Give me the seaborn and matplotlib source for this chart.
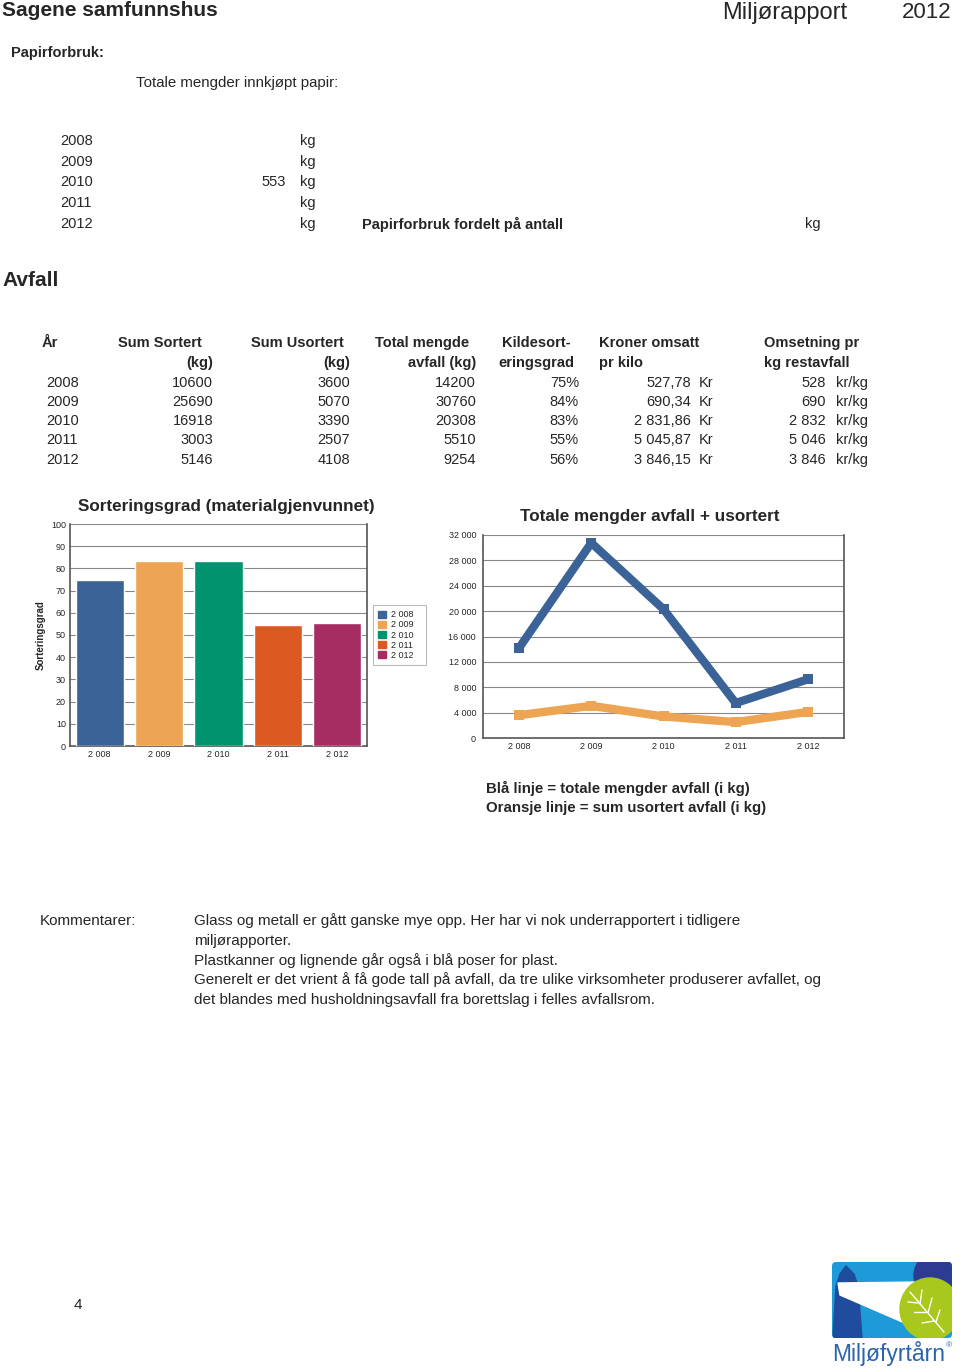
import numpy as np
import pandas as pd
import matplotlib
matplotlib.use("Agg")
import matplotlib.pyplot as plt
import matplotlib.patches as mpatches
import seaborn as sns

# data
years = [2008, 2009, 2010, 2011, 2012]
year_labels = ["2 008", "2 009", "2 010", "2 011", "2 012"]
sortert = [10600, 25690, 16918, 3003, 5146]
usortert = [3600, 5070, 3390, 2507, 4108]
total = [14200, 30760, 20308, 5510, 9254]
kildesort = ["75%", "84%", "83%", "55%", "56%"]
kroner_kilo = ["527,78", "690,34", "2 831,86", "5 045,87", "3 846,15"]
omsetning = ["528", "690", "2 832", "5 046", "3 846"]
sort_grad = [74.6, 83.5, 83.3, 54.5, 55.6]
bar_colors = ["#3b6398", "#eda453", "#00936e", "#dc5a21", "#a52d62"]
line_blue = "#3b6398"
line_orange = "#eda453"

sns.set_style("white")
plt.rcParams["font.family"] = ["Liberation Sans", "DejaVu Sans"]

W, H = 960, 1371
fig = plt.figure(figsize=(9.6, 13.71), dpi=100)


def txt(x, y, s, size=10.5, ha="left", weight="normal", **kw):
    fig.text(x / W, 1 - y / H, s, fontsize=size, ha=ha, va="center",
             fontweight=weight, **kw)


def ax_at(x0, y0, x1, y1):
    return fig.add_axes([x0 / W, 1 - y1 / H, (x1 - x0) / W, (y1 - y0) / H])


# page header
txt(2, 11, "Sagene samfunnshus", size=15, weight="bold")
txt(722, 13, "Miljørapport", size=17)
txt(902, 13, "2012", size=16)

# paper section
txt(11, 53, "Papirforbruk:", size=10.5, weight="bold")
txt(136, 83, "Totale mengder innkjøpt papir:", size=10.8)
for i, yr in enumerate(years):
    yy = [141, 162, 182, 203, 224][i]
    txt(60, yy, str(yr))
    txt(300, yy, "kg")
txt(286, 182, "553", ha="right")
txt(362, 224, "Papirforbruk fordelt på antall", weight="bold")
txt(805, 224, "kg")

txt(2, 281, "Avfall", size=15, weight="bold")

# table
hdr1, hdr2 = 343, 363
txt(42, hdr1, "År", weight="bold")
txt(118, hdr1, "Sum Sortert", weight="bold")
txt(213, hdr2, "(kg)", ha="right", weight="bold")
txt(251, hdr1, "Sum Usortert", weight="bold")
txt(350, hdr2, "(kg)", ha="right", weight="bold")
txt(375, hdr1, "Total mengde", weight="bold")
txt(476, hdr2, "avfall (kg)", ha="right", weight="bold")
txt(502, hdr1, "Kildesort-", weight="bold")
txt(498, hdr2, "eringsgrad", weight="bold")
txt(599, hdr1, "Kroner omsatt", weight="bold")
txt(599, hdr2, "pr kilo", weight="bold")
txt(764, hdr1, "Omsetning pr", weight="bold")
txt(764, hdr2, "kg restavfall", weight="bold")
rows_y = [383, 402, 421, 440, 460]
for i, yy in enumerate(rows_y):
    txt(46, yy, str(years[i]))
    txt(213, yy, str(sortert[i]), ha="right")
    txt(350, yy, str(usortert[i]), ha="right")
    txt(476, yy, str(total[i]), ha="right")
    txt(579, yy, kildesort[i], ha="right")
    txt(691, yy, kroner_kilo[i], ha="right")
    txt(699, yy, "Kr")
    txt(826, yy, omsetning[i], ha="right")
    txt(836, yy, "kr/kg")

# bar chart
ax1 = ax_at(70, 524, 367, 746)
df_bar = pd.DataFrame({"year": year_labels, "grad": sort_grad})
sns.barplot(data=df_bar, x="year", y="grad", hue="year", palette=bar_colors,
            width=0.81, saturation=1, legend=False, ax=ax1, zorder=3)
ax1.set_ylim(0, 100)
ax1.set_xlim(-0.5, 4.5)
ax1.set_yticks(range(0, 101, 10))
ax1.yaxis.grid(True, color="#888888", linewidth=0.8, zorder=0)
ax1.set_axisbelow(True)
ax1.tick_params(axis="both", labelsize=6.5, length=0, pad=3)
ax1.set_xlabel("")
ax1.set_ylabel("Sorteringsgrad", fontsize=7, fontweight="bold", labelpad=4)
for side in ["left", "bottom", "right"]:
    ax1.spines[side].set_color("#555555")
    ax1.spines[side].set_linewidth(1.2)
ax1.spines["top"].set_visible(False)
fig.text(78 / W, 1 - 506 / H, "Sorteringsgrad (materialgjenvunnet)",
         fontsize=12.3, fontweight="bold", va="center")
handles = [mpatches.Patch(color=c) for c in bar_colors]
leg = ax1.legend(handles, [lab + "   " for lab in year_labels],
                 loc="center left",
                 bbox_to_anchor=(373 / W, 1 - 635 / H),
                 bbox_transform=fig.transFigure, fontsize=6.5,
                 frameon=True, fancybox=False, handlelength=0.8,
                 handleheight=0.8, handletextpad=0.6, labelspacing=0.12,
                 borderpad=0.6, borderaxespad=0)
leg.get_frame().set_edgecolor("#aaaaaa")
leg.get_frame().set_linewidth(0.8)

# line chart
ax2 = ax_at(483, 535, 844, 738)
pos = np.arange(len(years))
df_line = pd.DataFrame({"pos": pos, "total": total, "usortert": usortert})
sns.lineplot(data=df_line, x="pos", y="total", color=line_blue, linewidth=6,
             marker="s", markersize=7, markeredgewidth=0, ax=ax2, zorder=4)
sns.lineplot(data=df_line, x="pos", y="usortert", color=line_orange,
             linewidth=6, marker="s", markersize=7, markeredgewidth=0,
             ax=ax2, zorder=3)
ax2.set_xlim(-0.5, 4.5)
ax2.set_ylim(0, 32000)
ax2.set_yticks(range(0, 32001, 4000))
ax2.set_yticklabels([f"{v:,}".replace(",", " ") for v in range(0, 32001, 4000)])
ax2.set_xticks(pos)
ax2.set_xticklabels(year_labels)
ax2.yaxis.grid(True, color="#888888", linewidth=0.8, zorder=0)
ax2.set_axisbelow(True)
ax2.tick_params(axis="y", labelsize=6.5, length=0, pad=5)
ax2.tick_params(axis="x", labelsize=6.5, length=0, pad=3)
ax2.set_xlabel("")
ax2.set_ylabel("")
for side in ["left", "bottom", "right"]:
    ax2.spines[side].set_color("#555555")
    ax2.spines[side].set_linewidth(1.2)
ax2.spines["top"].set_visible(False)
fig.text(650 / W, 1 - 516 / H, "Totale mengder avfall + usortert",
         fontsize=12.3, fontweight="bold", va="center", ha="center")

txt(486, 788, "Blå linje = totale mengder avfall (i kg)", size=10.8, weight="bold")
txt(486, 808, "Oransje linje = sum usortert avfall (i kg)", size=10.8, weight="bold")

# comments
txt(40, 921, "Kommentarer:", size=11)
comment_lines = [
    "Glass og metall er gått ganske mye opp. Her har vi nok underrapportert i tidligere",
    "miljørapporter.",
    "Plastkanner og lignende går også i blå poser for plast.",
    "Generelt er det vrient å få gode tall på avfall, da tre ulike virksomheter produserer avfallet, og",
    "det blandes med husholdningsavfall fra borettslag i felles avfallsrom.",
]
for yy, line in zip([921, 941, 961, 980, 1000], comment_lines):
    txt(194, yy, line, size=11)

txt(74, 1305, "4", size=11)

# logo
lg = ax_at(832, 1262, 952, 1338)
lg.set_xlim(0, 120)
lg.set_ylim(76, 0)
lg.axis("off")
box = mpatches.FancyBboxPatch((0, 0), 120, 76,
                              boxstyle="round,pad=0,rounding_size=4",
                              facecolor="#1e9ad8", edgecolor="none")
lg.add_patch(box)
parts = [
    mpatches.Ellipse((112, 14), 60, 56, color="#2d3b92"),
    mpatches.Polygon([[1, 76], [4, 24], [8, 12], [14, 4], [22, 12], [26, 24], [30, 76]],
                     color="#1f4c9c"),
    mpatches.Polygon([[6, 21], [88, 20], [98, 72], [8, 33]], color="white"),
    mpatches.Ellipse((98, 47), 60, 62, color="#a8c81d"),
]
for p in parts:
    lg.add_patch(p)
    p.set_clip_path(box)
for (x0, y0, x1, y1) in [(78, 30, 112, 70), (88, 42, 90, 28), (96, 51, 100, 36),
                         (104, 60, 108, 48), (86, 41, 76, 40), (94, 50, 82, 50),
                         (102, 59, 90, 61)]:
    lg.plot([x0, x1], [y0, y1], color="white", linewidth=1.0)
fig.text(832 / W, 1 - 1353 / H, "Miljøfyrtårn", fontsize=16.5, color="#2b63ad",
         va="center")
fig.text(946 / W, 1 - 1346 / H, "®", fontsize=6, color="#2b63ad", va="center")

fig.savefig("out.png", dpi=100)
